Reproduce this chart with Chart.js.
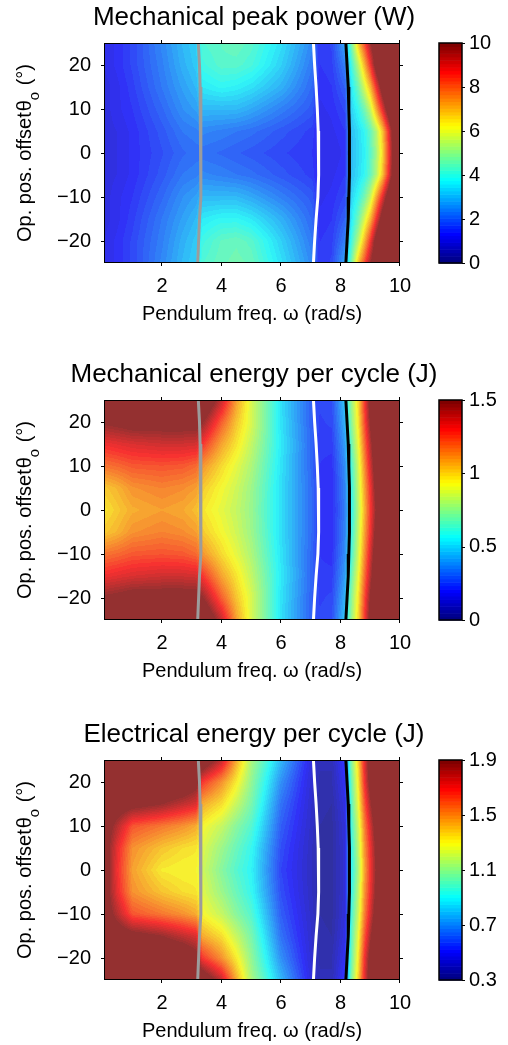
<!DOCTYPE html>
<html>
<head>
<meta charset="utf-8">
<script src="https://cdn.jsdelivr.net/npm/chart.js@4.4.1/dist/chart.umd.min.js"></script>
<style>
  html, body { margin: 0; padding: 0; background: #fff; overflow: hidden; }
  canvas { position: absolute; left: 0; }
</style>
</head>
<body>
<canvas id="c1" width="508" height="328" style="top:0px"></canvas>
<canvas id="c2" width="508" height="328" style="top:357px"></canvas>
<canvas id="c3" width="508" height="328" style="top:717px"></canvas>
<script>
const FONT = "'Liberation Sans', Arial, Helvetica, sans-serif";

// grid nodes of the maps (pendulum freq in rad/s, offset in degrees, top row first)
const freqNodes = [0.05, 0.5, 1, 2, 2.7, 3.15, 3.35, 4, 4.5, 5, 6, 7.05, 7.3, 7.7, 8.15, 8.35, 8.6, 8.8, 9.0, 9.2, 9.4, 9.6, 9.8, 10];
const offsetNodes = [25, 20, 15, 10, 5, 0, -5, -10, -15, -20, -25];
const freqTicks = [2, 4, 6, 8, 10];
const offsetTicks = [-20, -10, 0, 10, 20];

// Mechanical peak power (W)
const peakPower = [
  [1.1, 1.3, 1.6, 2.4, 3.0, 3.3, 4.2, 4.4, 4.5, 4.3, 3.5, 2.4, 1.4, 1.6, 2.8, 4.5, 6.9, 8.3, 9.8, 11, 12, 12, 12, 12],
  [1.1, 1.3, 1.6, 2.3, 2.9, 3.2, 4.0, 4.3, 4.3, 4.1, 3.3, 2.2, 1.4, 1.5, 2.3, 3.9, 5.5, 7.0, 8.6, 10.5, 12, 12, 12, 12],
  [1.0, 1.2, 1.5, 2.2, 2.7, 3.0, 3.6, 3.8, 3.7, 3.5, 2.9, 2.0, 1.3, 1.4, 1.9, 3.5, 4.6, 5.8, 7.0, 8.7, 10.5, 12, 12, 12],
  [1.0, 1.2, 1.4, 2.0, 2.5, 2.7, 3.0, 3.0, 3.0, 2.8, 2.3, 1.8, 1.2, 1.3, 1.6, 3.3, 3.9, 4.6, 5.6, 7.2, 8.8, 10.5, 12, 12],
  [1.0, 1.1, 1.3, 1.8, 2.2, 2.3, 2.4, 2.3, 2.2, 2.1, 1.8, 1.5, 1.1, 1.2, 1.4, 3.05, 3.45, 3.8, 4.45, 5.4, 6.75, 8.6, 10.7, 12],
  [1.0, 1.1, 1.3, 1.7, 2.0, 2.1, 2.1, 2.0, 1.9, 1.8, 1.6, 1.4, 1.1, 1.1, 1.3, 3.0, 3.4, 3.7, 4.3, 5.2, 6.5, 8.3, 10.5, 12],
  [1.0, 1.1, 1.3, 1.8, 2.2, 2.3, 2.4, 2.3, 2.2, 2.1, 1.8, 1.5, 1.1, 1.2, 1.4, 3.05, 3.45, 3.8, 4.45, 5.4, 6.75, 8.6, 10.7, 12],
  [1.0, 1.2, 1.4, 2.0, 2.5, 2.7, 3.0, 3.0, 3.0, 2.8, 2.3, 1.8, 1.2, 1.3, 1.6, 3.3, 3.9, 4.6, 5.6, 7.2, 8.8, 10.5, 12, 12],
  [1.0, 1.2, 1.5, 2.2, 2.7, 3.0, 3.6, 3.8, 3.8, 3.6, 2.9, 2.0, 1.3, 1.4, 1.9, 3.5, 4.6, 5.8, 7.0, 8.7, 10.5, 12, 12, 12],
  [1.1, 1.3, 1.6, 2.3, 2.9, 3.2, 4.0, 4.4, 4.5, 4.3, 3.3, 2.2, 1.4, 1.5, 2.3, 3.9, 5.5, 7.0, 8.6, 10.5, 12, 12, 12, 12],
  [1.1, 1.3, 1.6, 2.4, 3.0, 3.3, 4.2, 4.5, 4.6, 4.5, 3.5, 2.4, 1.4, 1.6, 2.8, 4.5, 6.9, 8.3, 9.8, 11, 12, 12, 12, 12]
];

// Mechanical energy per cycle (J)
const mechEnergy = [
  [1.6, 1.62, 1.65, 1.65, 1.65, 1.65, 1.7, 1.4, 1.1, 0.88, 0.52, 0.28, 0.24, 0.25, 0.48, 0.75, 1.0, 1.28, 1.55, 1.8, 1.8, 1.8, 1.8, 1.8],
  [1.5, 1.52, 1.55, 1.55, 1.55, 1.55, 1.5, 1.22, 1.03, 0.88, 0.53, 0.28, 0.23, 0.24, 0.44, 0.72, 0.97, 1.24, 1.5, 1.75, 1.8, 1.8, 1.8, 1.8],
  [1.32, 1.34, 1.36, 1.38, 1.38, 1.37, 1.3, 1.09, 0.97, 0.84, 0.54, 0.29, 0.22, 0.22, 0.4, 0.66, 0.92, 1.18, 1.42, 1.66, 1.8, 1.8, 1.8, 1.8],
  [1.18, 1.2, 1.23, 1.24, 1.23, 1.2, 1.12, 0.99, 0.9, 0.8, 0.53, 0.29, 0.21, 0.2, 0.37, 0.6, 0.87, 1.12, 1.36, 1.6, 1.8, 1.8, 1.8, 1.8],
  [1.02, 1.06, 1.12, 1.15, 1.13, 1.1, 1.02, 0.93, 0.86, 0.77, 0.52, 0.3, 0.21, 0.19, 0.35, 0.57, 0.84, 1.08, 1.3, 1.55, 1.8, 1.8, 1.8, 1.8],
  [0.97, 1.02, 1.07, 1.1, 1.08, 1.04, 0.97, 0.9, 0.84, 0.76, 0.52, 0.3, 0.21, 0.19, 0.34, 0.55, 0.82, 1.05, 1.28, 1.5, 1.8, 1.8, 1.8, 1.8],
  [1.02, 1.06, 1.12, 1.15, 1.13, 1.1, 1.02, 0.93, 0.86, 0.77, 0.52, 0.3, 0.21, 0.19, 0.35, 0.57, 0.84, 1.08, 1.3, 1.55, 1.8, 1.8, 1.8, 1.8],
  [1.18, 1.2, 1.23, 1.24, 1.23, 1.2, 1.12, 0.99, 0.9, 0.8, 0.53, 0.29, 0.21, 0.2, 0.37, 0.6, 0.87, 1.12, 1.36, 1.6, 1.8, 1.8, 1.8, 1.8],
  [1.32, 1.34, 1.36, 1.38, 1.38, 1.37, 1.3, 1.09, 0.97, 0.84, 0.54, 0.29, 0.22, 0.22, 0.4, 0.66, 0.92, 1.18, 1.42, 1.66, 1.8, 1.8, 1.8, 1.8],
  [1.5, 1.52, 1.55, 1.55, 1.55, 1.55, 1.5, 1.22, 1.03, 0.88, 0.53, 0.28, 0.23, 0.24, 0.44, 0.72, 0.97, 1.24, 1.5, 1.75, 1.8, 1.8, 1.8, 1.8],
  [1.6, 1.62, 1.65, 1.65, 1.65, 1.65, 1.7, 1.4, 1.1, 0.88, 0.52, 0.28, 0.24, 0.25, 0.48, 0.75, 1.0, 1.28, 1.55, 1.8, 1.8, 1.8, 1.8, 1.8]
];

// Electrical energy per cycle (J)
const elecEnergy = [
  [2.1, 2.1, 2.1, 2.1, 2.1, 2.05, 2.05, 1.8, 1.45, 1.15, 0.78, 0.45, 0.38, 0.38, 0.55, 1.05, 1.38, 1.72, 2.0, 2.1, 2.1, 2.1, 2.1, 2.1],
  [2.1, 2.1, 2.1, 2.1, 2.05, 1.95, 1.68, 1.5, 1.32, 1.1, 0.7, 0.43, 0.37, 0.37, 0.5, 1.0, 1.33, 1.68, 1.95, 2.1, 2.1, 2.1, 2.1, 2.1],
  [2.05, 2.0, 1.95, 1.88, 1.8, 1.75, 1.45, 1.35, 1.2, 1.05, 0.64, 0.42, 0.36, 0.35, 0.47, 0.97, 1.28, 1.6, 1.85, 2.05, 2.1, 2.1, 2.1, 2.1],
  [2.0, 1.82, 1.62, 1.55, 1.5, 1.45, 1.3, 1.2, 1.08, 0.98, 0.6, 0.41, 0.35, 0.34, 0.45, 0.93, 1.22, 1.52, 1.75, 1.98, 2.1, 2.1, 2.1, 2.1],
  [2.0, 1.72, 1.5, 1.4, 1.35, 1.33, 1.25, 1.12, 1.02, 0.92, 0.57, 0.4, 0.35, 0.34, 0.44, 0.9, 1.18, 1.48, 1.7, 1.92, 2.1, 2.1, 2.1, 2.1],
  [2.0, 1.7, 1.47, 1.32, 1.3, 1.3, 1.22, 1.08, 0.98, 0.9, 0.55, 0.4, 0.35, 0.34, 0.44, 0.88, 1.15, 1.45, 1.68, 1.9, 2.1, 2.1, 2.1, 2.1],
  [2.0, 1.72, 1.5, 1.4, 1.35, 1.33, 1.25, 1.12, 1.02, 0.92, 0.57, 0.4, 0.35, 0.34, 0.44, 0.9, 1.18, 1.48, 1.7, 1.92, 2.1, 2.1, 2.1, 2.1],
  [2.0, 1.82, 1.62, 1.55, 1.5, 1.45, 1.3, 1.2, 1.08, 0.98, 0.6, 0.41, 0.35, 0.34, 0.45, 0.93, 1.22, 1.52, 1.75, 1.98, 2.1, 2.1, 2.1, 2.1],
  [2.05, 2.0, 1.95, 1.88, 1.8, 1.75, 1.45, 1.35, 1.2, 1.05, 0.64, 0.42, 0.36, 0.35, 0.47, 0.97, 1.28, 1.6, 1.85, 2.05, 2.1, 2.1, 2.1, 2.1],
  [2.1, 2.1, 2.1, 2.1, 2.05, 1.95, 1.68, 1.5, 1.32, 1.1, 0.7, 0.43, 0.37, 0.37, 0.5, 1.0, 1.33, 1.68, 1.95, 2.1, 2.1, 2.1, 2.1, 2.1],
  [2.1, 2.1, 2.1, 2.1, 2.1, 2.05, 2.05, 1.8, 1.45, 1.15, 0.78, 0.45, 0.38, 0.38, 0.55, 1.05, 1.38, 1.72, 2.0, 2.1, 2.1, 2.1, 2.1, 2.1]
];

// boundary curves: freq at each offsetNodes entry
const grayLine = [3.22, 3.26, 3.28, 3.30, 3.31, 3.31, 3.31, 3.30, 3.26, 3.23, 3.20];
const whiteLine = [7.09, 7.13, 7.18, 7.22, 7.25, 7.27, 7.26, 7.24, 7.18, 7.13, 7.09];
const blackLine = [8.18, 8.22, 8.26, 8.28, 8.30, 8.30, 8.30, 8.28, 8.26, 8.22, 8.18];

// colorbar ticks
const powerTicks = [0, 2, 4, 6, 8, 10];
const mechTicks = [0, 0.5, 1, 1.5];
const elecTicks = [0.3, 0.7, 1.1, 1.5, 1.9];

Chart.defaults.font.family = FONT;
Chart.defaults.font.size = 20;
Chart.defaults.color = '#000';

// matlab jet, 64 steps
function jet(i) {
  const t = i / 63;
  const c = v => Math.round(255 * Math.max(0, Math.min(1, v)));
  return [c(1.5 - Math.abs(4 * t - 3)), c(1.5 - Math.abs(4 * t - 2)), c(1.5 - Math.abs(4 * t - 1))];
}
function levelOf(v, lo, hi) {
  return Math.max(0, Math.min(63, Math.floor((v - lo) / (hi - lo) * 64)));
}
function locate(nodes, v, desc) {
  let k = 0;
  if (desc) {
    while (k < nodes.length - 2 && v < nodes[k + 1]) k++;
  } else {
    while (k < nodes.length - 2 && v > nodes[k + 1]) k++;
  }
  let f = (v - nodes[k]) / (nodes[k + 1] - nodes[k]);
  return [k, Math.max(0, Math.min(1, f))];
}
// keep the scales from reserving room for their labels above/below the plot
const noPad = s => { s.paddingTop = 0; s.paddingBottom = 0; };

function makePanel(id, title, grid, lo, hi, cticks) {
  const heat = {
    id: 'heat',
    beforeDatasetsDraw(chart) {
      const { ctx, chartArea: a, scales: { x, y } } = chart;
      const w = Math.round(a.right - a.left), h = Math.round(a.bottom - a.top);
      const off = document.createElement('canvas');
      off.width = w; off.height = h;
      const octx = off.getContext('2d');
      const img = octx.createImageData(w, h);
      const cols = [], rows = [];
      for (let i = 0; i < w; i++) cols.push(locate(freqNodes, x.getValueForPixel(a.left + i + 0.5), false));
      for (let j = 0; j < h; j++) rows.push(locate(offsetNodes, y.getValueForPixel(a.top + j + 0.5), true));
      for (let j = 0; j < h; j++) {
        const [r, fy] = rows[j];
        const g0 = grid[r], g1 = grid[r + 1];
        for (let i = 0; i < w; i++) {
          const [k, fx] = cols[i];
          const t = g0[k] * (1 - fx) + g0[k + 1] * fx;
          const b = g1[k] * (1 - fx) + g1[k + 1] * fx;
          const c = jet(levelOf(t * (1 - fy) + b * fy, lo, hi));
          const p = (j * w + i) * 4;
          // surface looks a bit washed out in the original
          img.data[p] = c[0] * 0.78 + 220 * 0.22;
          img.data[p + 1] = c[1] * 0.78 + 220 * 0.22;
          img.data[p + 2] = c[2] * 0.78 + 220 * 0.22;
          img.data[p + 3] = 255;
        }
      }
      octx.putImageData(img, 0, 0);
      ctx.drawImage(off, a.left, a.top);
    },
    afterDatasetsDraw(chart) {
      const { ctx, chartArea: a, scales: { x, y, y2 } } = chart;
      ctx.save();
      ctx.strokeStyle = '#000';
      ctx.lineWidth = 1;
      ctx.strokeRect(a.left + 0.5, a.top + 0.5, a.right - a.left - 1, a.bottom - a.top - 1);
      ctx.beginPath();
      freqTicks.forEach(v => {
        const px = Math.round(x.getPixelForValue(v)) - 0.5;
        ctx.moveTo(px, a.bottom); ctx.lineTo(px, a.bottom + 3);
        ctx.moveTo(px, a.top); ctx.lineTo(px, a.top - 3);
      });
      offsetTicks.forEach(v => {
        const py = Math.round(y.getPixelForValue(v)) + 0.5;
        ctx.moveTo(a.left, py); ctx.lineTo(a.left - 3, py);
        ctx.moveTo(a.right, py); ctx.lineTo(a.right + 3, py);
      });
      ctx.stroke();

      // colorbar
      const x0 = a.right + 39, x1 = a.right + 62;
      for (let i = 0; i < 64; i++) {
        const pa = y2.getPixelForValue(lo + (hi - lo) * i / 64);
        const pb = y2.getPixelForValue(lo + (hi - lo) * (i + 1) / 64);
        const c = jet(i);
        ctx.fillStyle = `rgb(${c[0]},${c[1]},${c[2]})`;
        ctx.fillRect(x0, pb, x1 - x0, pa - pb + 0.6);
      }
      const ct = y2.getPixelForValue(hi), cb = y2.getPixelForValue(lo);
      ctx.lineWidth = 1.5;
      ctx.strokeRect(x0, ct, x1 - x0, cb - ct);
      ctx.lineWidth = 1;
      ctx.beginPath();
      cticks.forEach(v => {
        const py = Math.round(y2.getPixelForValue(v)) + 0.5;
        ctx.moveTo(x1, py); ctx.lineTo(x1 + 3, py);
      });
      ctx.stroke();
      ctx.restore();
    },
    afterDraw(chart) {
      // y title with subscript
      const { ctx, chartArea: a } = chart;
      const big = '20px ' + FONT, small = '15px ' + FONT;
      const parts = [['Op. pos. offset', big, 0, 1], ['θ', big, 0, 0], ['o', small, 8, 1], [' (°)', big, 0, 0]];
      ctx.save();
      ctx.translate(31, (a.top + a.bottom) / 2);
      ctx.rotate(-Math.PI / 2);
      ctx.fillStyle = '#000';
      ctx.textBaseline = 'alphabetic';
      ctx.textAlign = 'left';
      let total = 0;
      parts.forEach(p => { ctx.font = p[1]; total += ctx.measureText(p[0]).width + p[3]; });
      let sx = -total / 2;
      parts.forEach(p => {
        ctx.font = p[1];
        ctx.fillText(p[0], sx, p[2]);
        sx += ctx.measureText(p[0]).width + p[3];
      });
      ctx.restore();
    }
  };

  const line = (vals, color) => ({
    data: vals.map((v, i) => ({ x: v, y: offsetNodes[i] })),
    borderColor: color,
    borderWidth: 3,
    showLine: true,
    pointRadius: 0,
    clip: 0
  });

  return new Chart(document.getElementById(id), {
    type: 'scatter',
    data: {
      datasets: [line(grayLine, '#9c9c9c'), line(whiteLine, '#ffffff'), line(blackLine, '#000000')]
    },
    options: {
      responsive: false,
      animation: false,
      devicePixelRatio: 1,
      events: [],
      layout: { padding: 0 },
      plugins: {
        legend: { display: false },
        tooltip: { enabled: false },
        title: {
          display: true,
          text: title,
          font: { size: 26, weight: 'normal' },
          color: '#000',
          padding: { top: 2, bottom: 9.8 }
        }
      },
      scales: {
        x: {
          type: 'linear', min: 0.05, max: 10,
          afterBuildTicks: s => { s.ticks = freqTicks.map(v => ({ value: v })); },
          afterFit: s => { s.height = 65; s.paddingLeft = 0; s.paddingRight = 0; },
          grid: { display: false, drawTicks: false },
          border: { display: false },
          ticks: { padding: 11, autoSkip: false, maxRotation: 0, color: '#000', callback: v => String(v) },
          title: { display: true, text: 'Pendulum freq. ω (rad/s)', color: '#000', font: { size: 20 }, padding: { top: 0, bottom: 2 } }
        },
        y: {
          type: 'linear', min: -25, max: 25,
          afterBuildTicks: s => { s.ticks = offsetTicks.map(v => ({ value: v })); },
          afterFit: s => { s.width = 104; noPad(s); },
          grid: { display: false, drawTicks: false },
          border: { display: false },
          ticks: { padding: 13, color: '#000', callback: v => String(v).replace('-', '\u2212') }
        },
        y2: {
          type: 'linear', position: 'right', min: lo, max: hi,
          afterBuildTicks: s => { s.ticks = cticks.map(v => ({ value: v })); },
          afterFit: s => { s.width = 108; noPad(s); },
          grid: { display: false, drawTicks: false },
          border: { display: false },
          ticks: { padding: 69, color: '#000', callback: v => String(v) }
        }
      }
    },
    plugins: [heat]
  });
}

makePanel('c1', 'Mechanical peak power (W)', peakPower, 0, 10, powerTicks);
makePanel('c2', 'Mechanical energy per cycle (J)', mechEnergy, 0, 1.5, mechTicks);
makePanel('c3', 'Electrical energy per cycle (J)', elecEnergy, 0.3, 1.9, elecTicks);
</script>
</body>
</html>
